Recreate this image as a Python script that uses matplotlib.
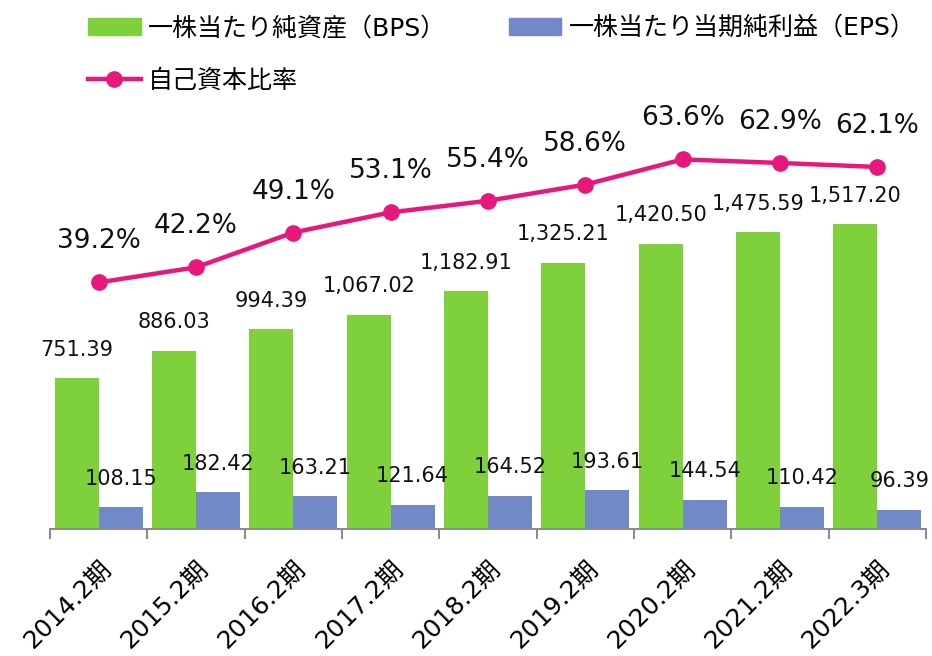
import numpy as np
import matplotlib.pyplot as plt
from matplotlib.patches import Patch
from matplotlib.lines import Line2D

plt.rcParams['font.family'] = ['DejaVu Sans', 'Noto Sans CJK JP']

periods = ['2014.2期', '2015.2期', '2016.2期', '2017.2期', '2018.2期',
           '2019.2期', '2020.2期', '2021.2期', '2022.3期']
bps = [751.39, 886.03, 994.39, 1067.02, 1182.91, 1325.21, 1420.50, 1475.59, 1517.20]
eps = [108.15, 182.42, 163.21, 121.64, 164.52, 193.61, 144.54, 110.42, 96.39]
ratio = [39.2, 42.2, 49.1, 53.1, 55.4, 58.6, 63.6, 62.9, 62.1]

green = '#7fd13b'
blue = '#7289c8'
pink = '#e8177c'

W, H = 932, 656
fig = plt.figure(figsize=(W / 100, H / 100), dpi=100)
ax = fig.add_axes([50 / W, 127 / H, 876 / W, 419 / H])

x = np.arange(len(periods))
bw = 0.452
ax.bar(x - bw / 2, bps, bw, color=green, zorder=2)
ax.bar(x + bw / 2, eps, bw, color=blue, zorder=2)
ax.set_xlim(-0.5, len(periods) - 0.5)
ax.set_ylim(0, 2085)

for xi, v in zip(x, bps):
    ax.annotate(f'{v:,.2f}', (xi - bw / 2, v), xytext=(0, 20.5), textcoords='offset points',
                ha='center', va='center', fontsize=15, color='#111111')
for xi, v in zip(x, eps):
    ax.annotate(f'{v:,.2f}', (xi + bw / 2, v), xytext=(0, 20.5), textcoords='offset points',
                ha='center', va='center', fontsize=15, color='#111111')

ax2 = ax.twinx()
ax2.plot(x, ratio, color=pink, lw=3.2, marker='o', markersize=11, zorder=3)
ax2.set_ylim(-9.7, 73.4)
for xi, v in zip(x, ratio):
    ax2.annotate(f'{v:.1f}%', (xi, v), xytext=(0, 29.5), textcoords='offset points',
                 ha='center', va='center', fontsize=19, color='#111111')

for a in (ax, ax2):
    for s in ['top', 'right', 'left']:
        a.spines[s].set_visible(False)
    a.set_yticks([])
ax2.spines['bottom'].set_visible(False)
ax.spines['bottom'].set_color('#8c8c8c')
ax.spines['bottom'].set_linewidth(1.5)

ax.set_xticks(x)
ax.set_xticklabels(periods, rotation=45, ha='right', rotation_mode='anchor', fontsize=18)
ax.tick_params(axis='x', which='major', length=0, pad=20)
ax.set_xticks(np.arange(-0.5, len(periods)), minor=True)
ax.tick_params(axis='x', which='minor', length=7, width=1.5, color='#8c8c8c')

handles = [Patch(color=green, label='一株当たり純資産（BPS）'),
           Line2D([], [], color=pink, lw=3.2, marker='o', markersize=11, label='自己資本比率'),
           Patch(color=blue, label='一株当たり当期純利益（EPS）')]
fig.legend(handles=handles, ncol=2, loc='upper left', bbox_to_anchor=(88 / W, 1 - 16 / H),
           frameon=False, fontsize=18, handlelength=2.1, handletextpad=0.3,
           columnspacing=2.5, labelspacing=1.15, borderpad=0, borderaxespad=0)

fig.savefig('out.png', dpi=100)
